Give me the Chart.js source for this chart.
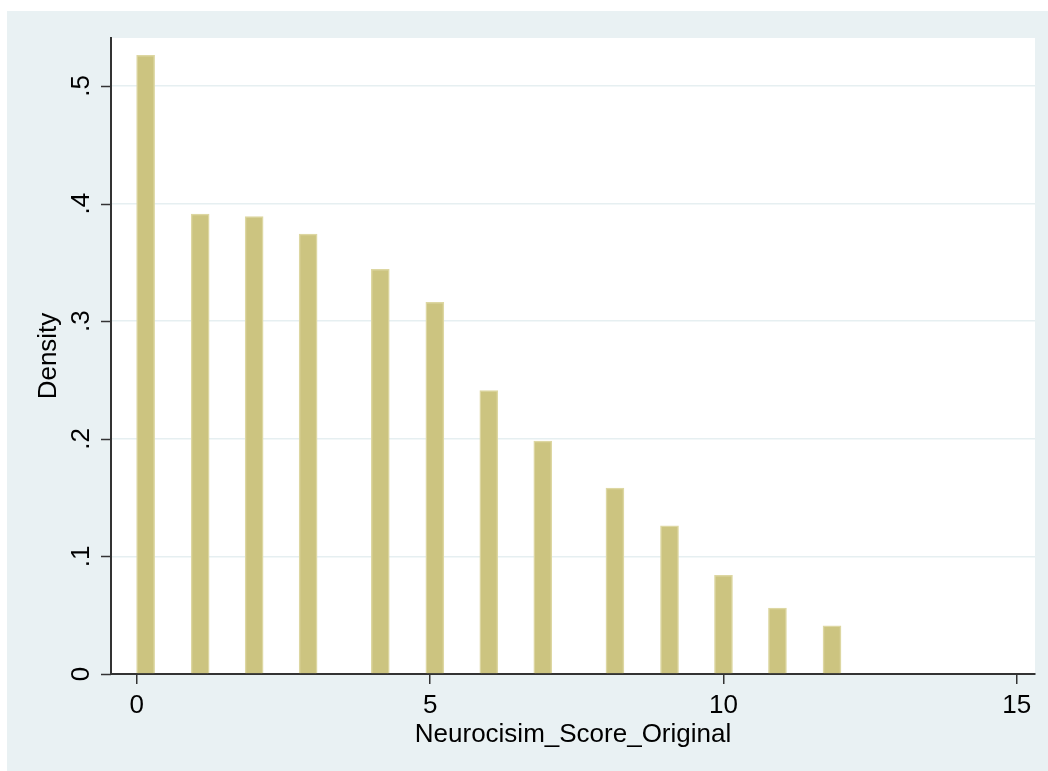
<!DOCTYPE html>
<html>
<head>
<meta charset="utf-8">
<script src="https://cdn.jsdelivr.net/npm/chart.js@4.4.1/dist/chart.umd.min.js"></script>
<style>
    html, body { margin: 0; padding: 0; background: #ffffff; }
    #wrap { width: 1048px; height: 771px; position: relative; }
</style>
</head>
<body>
<div id="wrap"><canvas id="histChart" width="1048" height="771"></canvas></div>
<script>
// Bin midpoints (score) and densities
const binCenters = [0.15, 1.08, 2.0, 2.92, 4.15, 5.08, 6.0, 6.92, 8.15, 9.08, 10.0, 10.92, 11.85];
const densities = [0.526, 0.391, 0.389, 0.374, 0.344, 0.316, 0.241, 0.198, 0.158, 0.126, 0.084, 0.056, 0.041];
const xTicks = [0, 5, 10, 15];
const yTicks = [0, 0.1, 0.2, 0.3, 0.4, 0.5];
const yTickLabels = ['0', '.1', '.2', '.3', '.4', '.5'];

const BG = '#e9f1f3';
const FONT = 'Liberation Sans, Arial';

// Stata-like graph region: grey panel with a thin white margin top/left
const regionBg = {
    id: 'regionBg',
    beforeDraw(chart) {
        const ctx = chart.ctx;
        const a = chart.chartArea;
        ctx.save();
        ctx.fillStyle = '#ffffff';
        ctx.fillRect(0, 0, chart.width, chart.height);
        ctx.fillStyle = BG;
        ctx.fillRect(7, 11, chart.width - 7, chart.height - 11);
        ctx.fillStyle = '#ffffff';
        ctx.fillRect(a.left, a.top, a.right - a.left, a.bottom - a.top);
        ctx.restore();
    }
};

const ctx = document.getElementById('histChart').getContext('2d');
new Chart(ctx, {
    type: 'bar',
    data: {
        datasets: [{
            label: 'Density',
            data: binCenters.map((x, i) => ({ x: x, y: densities[i] })),
            backgroundColor: 'rgb(204,196,128)',
            borderColor: 'rgb(221,215,162)',
            borderWidth: 1.5,
            barThickness: 18,
            borderSkipped: 'bottom'
        }]
    },
    options: {
        responsive: false,
        animation: false,
        layout: { padding: { left: 7, top: 38, right: 13, bottom: 11 } },
        plugins: { legend: { display: false }, tooltip: { enabled: false } },
        scales: {
            x: {
                type: 'linear',
                offset: false,
                min: -0.44,
                max: 15.31,
                afterBuildTicks: s => { s.ticks = xTicks.map(v => ({ value: v })); },
                afterFit: s => { s.height = 86; s.paddingLeft = 0; s.paddingRight = 0; },
                grid: { display: true, offset: false, drawOnChartArea: false, drawTicks: true, tickLength: 10, color: '#333333', lineWidth: 1.5 },
                border: { display: true, color: '#333333', width: 2 },
                ticks: {
                    color: '#000000',
                    font: { family: FONT, size: 26 },
                    padding: 6,
                    maxRotation: 0,
                    callback: v => String(v)
                },
                title: {
                    display: true,
                    text: 'Neurocisim_Score_Original',
                    color: '#000000',
                    font: { family: FONT, size: 26 },
                    padding: { top: 0, bottom: 10 }
                }
            },
            y: {
                min: 0,
                max: 0.5408,
                afterBuildTicks: s => { s.ticks = yTicks.map(v => ({ value: v })); },
                afterFit: s => { s.width = 104; s.paddingTop = 0; s.paddingBottom = 0; },
                grid: {
                    color: ctx => ctx.tick && ctx.tick.value === 0 ? 'rgba(0,0,0,0)' : '#e6eff1',
                    lineWidth: 1.5,
                    drawTicks: false
                },
                border: { display: true, color: '#333333', width: 2 },
                ticks: {
                    color: '#000000',
                    font: { family: FONT, size: 26 },
                    padding: 18,
                    crossAlign: 'center',
                    minRotation: 90,
                    maxRotation: 90,
                    callback: v => yTickLabels[yTicks.indexOf(Math.round(v * 10) / 10)]
                },
                title: {
                    display: true,
                    text: 'Density',
                    color: '#000000',
                    font: { family: FONT, size: 26 },
                    padding: { top: 26, bottom: 0 }
                }
            }
        }
    },
    plugins: [regionBg, {
        // short dark tick marks on the y axis (grid lines there are pale)
        id: 'yTickMarks',
        afterDraw(chart) {
            const c = chart.ctx;
            const y = chart.scales.y;
            c.save();
            c.strokeStyle = '#333333';
            c.lineWidth = 1.5;
            yTicks.forEach(v => {
                const py = Math.round(y.getPixelForValue(v)) + 0.5;
                c.beginPath();
                c.moveTo(y.right - 10, py);
                c.lineTo(y.right, py);
                c.stroke();
            });
            c.restore();
        }
    }]
});
</script>
</body>
</html>
